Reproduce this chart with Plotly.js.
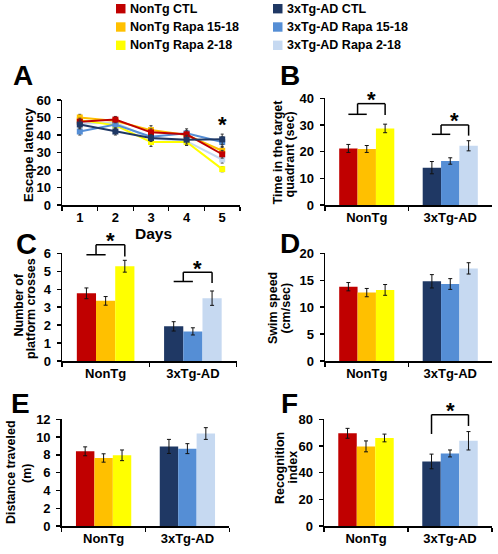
<!DOCTYPE html>
<html><head><meta charset="utf-8">
<script src="https://cdn.plot.ly/plotly-3.0.1.min.js"></script>
<style>html,body{margin:0;padding:0;background:#fff}#chart{width:498px;height:554px}</style>
</head><body><div id="chart"></div>
<script>
// ---------- data ----------
const seriesNames = ['NonTg CTL','NonTg Rapa 15-18','NonTg Rapa 2-18','3xTg-AD CTL','3xTg-AD Rapa 15-18','3xTg-AD Rapa 2-18'];
const seriesColors = ['#C00000','#FFC000','#FFFF00','#1F3864','#558ED5','#C6D9F1'];
const groups = ['NonTg','3xTg-AD'];
const days = ['1','2','3','4','5'];

// A: escape latency by day (one array per group)
const latNonTgCtl   = [47.6, 48.8, 41.5, 40.4, 29.0];
const latNonTg1518  = [50.0, 48.0, 42.8, 40.0, 31.0];
const latNonTg218   = [48.5, 45.5, 36.0, 36.0, 20.5];
const lat3xCtl      = [46.0, 42.0, 38.3, 37.3, 37.5];
const lat3x1518     = [42.0, 46.0, 39.0, 41.0, 36.0];
const lat3x218      = [46.5, 47.0, 38.0, 36.5, 26.0];
const latErrNonTgCtl  = [2.0, 1.8, 2.0, 2.0, 2.2];
const latErrNonTg1518 = [1.8, 1.5, 2.5, 2.0, 2.5];
const latErrNonTg218  = [2.0, 2.0, 2.5, 2.0, 1.5];
const latErr3xCtl     = [2.5, 2.0, 2.0, 2.5, 3.0];
const latErr3x1518    = [2.0, 2.0, 2.0, 2.5, 3.0];
const latErr3x218     = [2.0, 2.0, 2.0, 2.5, 2.0];

// B: time in target quadrant (CTL, Rapa 15-18, Rapa 2-18)
const quadNonTg = [21.2, 21.0, 28.7];  const quadNonTgErr = [1.5, 1.3, 1.6];
const quad3x    = [14.0, 16.5, 22.2];  const quad3xErr    = [2.3, 1.2, 1.9];
// C: platform crosses
const crossNonTg = [3.77, 3.35, 5.28]; const crossNonTgErr = [0.30, 0.24, 0.33];
const cross3x    = [1.93, 1.65, 3.50]; const cross3xErr    = [0.26, 0.20, 0.40];
// D: swim speed
const speedNonTg = [13.8, 12.7, 13.2]; const speedNonTgErr = [0.77, 0.77, 1.0];
const speed3x    = [14.8, 14.3, 17.2]; const speed3xErr    = [1.24, 1.0, 1.05];
// E: distance traveled
const distNonTg = [8.40, 7.65, 7.95];  const distNonTgErr = [0.50, 0.47, 0.60];
const dist3x    = [8.95, 8.70, 10.40]; const dist3xErr    = [0.79, 0.56, 0.66];
// F: recognition index
const recogNonTg = [69.5, 59.7, 66.0]; const recogNonTgErr = [3.7, 4.1, 2.9];
const recog3x    = [48.4, 54.4, 63.9]; const recog3xErr    = [5.5, 2.6, 6.9];

// significance brackets (levels in data units)
const sigB = [{g:0, low:34, top:38, end:33.7},{g:1, low:26.5, top:30, end:26}];
const sigC = [{g:0, low:5.92, top:6.48, end:5.82},{g:1, low:4.43, top:4.95, end:4.34}];
const sigF = [{g:1, start:69, top:83.5, end:75}];
const sigA = {day:4, level:48.6};

// ---------- layout helpers ----------
const W = 498, H = 554;
const FONT = 'Liberation Sans, Arial, Helvetica, sans-serif';
const px = x => x / W, py = y => 1 - y / H;
const panels = {
  A:{id:'',  x:[62,240],     y:[100,205],   yr:[0,60], dt:10},
  B:{id:'2', x:[325,492],    y:[98.3,205],  yr:[0,40], dt:10},
  C:{id:'3', x:[62,236.5],   y:[253.3,361], yr:[0,6],  dt:1},
  D:{id:'4', x:[325,492],    y:[253.3,361], yr:[0,20], dt:5},
  E:{id:'5', x:[61.7,229.3], y:[419.3,526], yr:[0,12], dt:2},
  F:{id:'6', x:[324,492],    y:[419.3,526], yr:[0,80], dt:20}
};
function yPaper(p, v){
  const b = py(p.y[1]), t = py(p.y[0]);
  return b + (v - p.yr[0]) / (p.yr[1] - p.yr[0]) * (t - b);
}
const BARGAP = 0.34, BW = (1 - BARGAP) / 3;
const barX = (g, j) => g + (j - 1) * BW;

const layout = {
  width: W, height: H, margin:{l:0,r:0,t:0,b:0},
  paper_bgcolor:'#fff', plot_bgcolor:'rgba(0,0,0,0)',
  font:{family:FONT, size:13, color:'#000', weight:'bold'},
  showlegend:false, barmode:'group', bargap:BARGAP, bargroupgap:0,
  shapes:[], annotations:[]
};
Object.values(panels).forEach(p => {
  const cats = p.id === '' ? days : groups;
  layout['xaxis'+p.id] = {
    domain:[px(p.x[0]), px(p.x[1])], anchor:'y'+p.id, type:'category',
    range:[-0.5, cats.length - 0.5], showline:true, linecolor:'#000', linewidth:1.5,
    ticks:'outside', ticklen:4, tickwidth:1.3, tickcolor:'#000', tickson:'boundaries',
    showgrid:false, zeroline:false, fixedrange:true,
    tickfont:{family:FONT, size:13, color:'#000', weight:'bold'}
  };
  layout['yaxis'+p.id] = {
    domain:[py(p.y[1]), py(p.y[0])], anchor:'x'+p.id, range:p.yr, dtick:p.dt,
    showline:true, linecolor:'#000', linewidth:1.5, ticks:'outside', ticklen:4,
    tickwidth:1.3, tickcolor:'#000', showgrid:false, zeroline:false, fixedrange:true,
    ticklabelstandoff:3,
    tickfont:{family:FONT, size:13, color:'#000', weight:'bold'}
  };
});

// ---------- traces ----------
const traces = [];
const latSeries = [
  [lat3x218, latErr3x218, 5], [latNonTg218, latErrNonTg218, 2], [latNonTg1518, latErrNonTg1518, 1],
  [lat3x1518, latErr3x1518, 4], [latNonTgCtl, latErrNonTgCtl, 0], [lat3xCtl, latErr3xCtl, 3]
];
latSeries.forEach(([vals, errs, k]) => {
  traces.push({
    type:'scatter', mode:'lines+markers', x:days, y:vals, xaxis:'x', yaxis:'y',
    name:seriesNames[k], line:{color:seriesColors[k], width:2},
    marker:{symbol:'square', size:6, color:seriesColors[k]},
    error_y:{type:'data', array:errs, color:'#333', thickness:1, width:1.5},
    hoverinfo:'skip', cliponaxis:false
  });
});
function addBars(p, nonTg, nonTgErr, tg, tgErr){
  for (let j = 0; j < 3; j++){
    traces.push({
      type:'bar', x:groups, y:[nonTg[j], tg[j]], xaxis:'x'+p.id, yaxis:'y'+p.id,
      name:seriesNames[j] + ' / ' + seriesNames[j+3],
      marker:{color:[seriesColors[j], seriesColors[j+3]], line:{width:0}},
      error_y:{type:'data', array:[nonTgErr[j], tgErr[j]], color:'#111', thickness:1, width:2},
      hoverinfo:'skip'
    });
  }
}
addBars(panels.B, quadNonTg, quadNonTgErr, quad3x, quad3xErr);
addBars(panels.C, crossNonTg, crossNonTgErr, cross3x, cross3xErr);
addBars(panels.D, speedNonTg, speedNonTgErr, speed3x, speed3xErr);
addBars(panels.E, distNonTg, distNonTgErr, dist3x, dist3xErr);
addBars(panels.F, recogNonTg, recogNonTgErr, recog3x, recog3xErr);

// ---------- brackets and stars ----------
function seg(p, x0, v0, x1, v1){
  layout.shapes.push({type:'line', xref:'x'+p.id, yref:'paper',
    x0:x0, x1:x1, y0:yPaper(p, v0), y1:yPaper(p, v1), line:{color:'#000', width:1.5}});
}
function star(xref, x, yp){
  layout.annotations.push({xref:xref, yref:'paper', x:x, y:yp, text:'*', showarrow:false,
    xanchor:'center', yanchor:'middle', yshift:-5,
    font:{family:FONT, size:22, color:'#000', weight:'bold'}});
}
function brackets(p, list){
  list.forEach(b => {
    let xl;
    if (b.low !== undefined){
      seg(p, barX(b.g,0), b.low, barX(b.g,1), b.low);
      xl = (barX(b.g,0) + barX(b.g,1)) / 2;
      seg(p, xl, b.low, xl, b.top);
    } else {
      xl = barX(b.g,0);
      seg(p, xl, b.start, xl, b.top);
    }
    const xr = barX(b.g,2);
    seg(p, xl, b.top, xr, b.top);
    seg(p, xr, b.top, xr, b.end);
    star('x'+p.id, (xl + xr) / 2, yPaper(p, b.top) + 9/H);
  });
}
brackets(panels.B, sigB);
brackets(panels.C, sigC);
brackets(panels.F, sigF);
star('x', sigA.day, yPaper(panels.A, sigA.level));

// ---------- text labels ----------
function txt(x, y, text, size, angle){
  layout.annotations.push({xref:'paper', yref:'paper', x:px(x), y:py(y), text:text,
    showarrow:false, xanchor:'center', yanchor:'middle', textangle:angle || 0,
    font:{family:FONT, size:size, color:'#000', weight:'bold'}});
}
// panel letters
txt(23, 75, 'A', 28); txt(289.5, 75, 'B', 28);
txt(26, 244, 'C', 29); txt(290, 243, 'D', 28);
txt(20, 403, 'E', 28); txt(289, 403, 'F', 28);
// axis titles
txt(28, 155, 'Escape latency', 13, -90);
txt(153, 233, 'Days', 15.5);
txt(277, 152.5, 'Time in the target', 12.5, -90);
txt(289.5, 155, 'quadrant (sec)', 12.5, -90);
txt(18.5, 305, 'Number of', 12.5, -90);
txt(31, 309, 'platform crosses', 12.5, -90);
txt(273, 308, 'Swim speed', 12.5, -90);
txt(285.5, 308, '(cm/sec)', 12.5, -90);
txt(11, 472, 'Distance traveled', 12.5, -90);
txt(27, 474, '(m)', 12.5, -90);
txt(280, 468, 'Recognition', 12.5, -90);
txt(292.5, 467, 'index', 12.5, -90);

// legend (2 columns x 3 rows)
const legCols = [116, 273], legRows = [8.7, 27, 45.3];
seriesNames.forEach((name, k) => {
  const c = Math.floor(k / 3), r = k % 3;
  const x0 = legCols[c], yc = legRows[r];
  layout.shapes.push({type:'rect', xref:'paper', yref:'paper',
    x0:px(x0), x1:px(x0+9.5), y0:py(yc+4.7), y1:py(yc-4.7),
    fillcolor:seriesColors[k], line:{width:0}});
  layout.annotations.push({xref:'paper', yref:'paper', x:px(x0+11.5), y:py(yc), text:name,
    showarrow:false, xanchor:'left', yanchor:'middle',
    font:{family:FONT, size:12.5, color:'#000', weight:'bold'}});
});

Plotly.newPlot('chart', traces, layout, {staticPlot:true, displayModeBar:false});
</script></body></html>
